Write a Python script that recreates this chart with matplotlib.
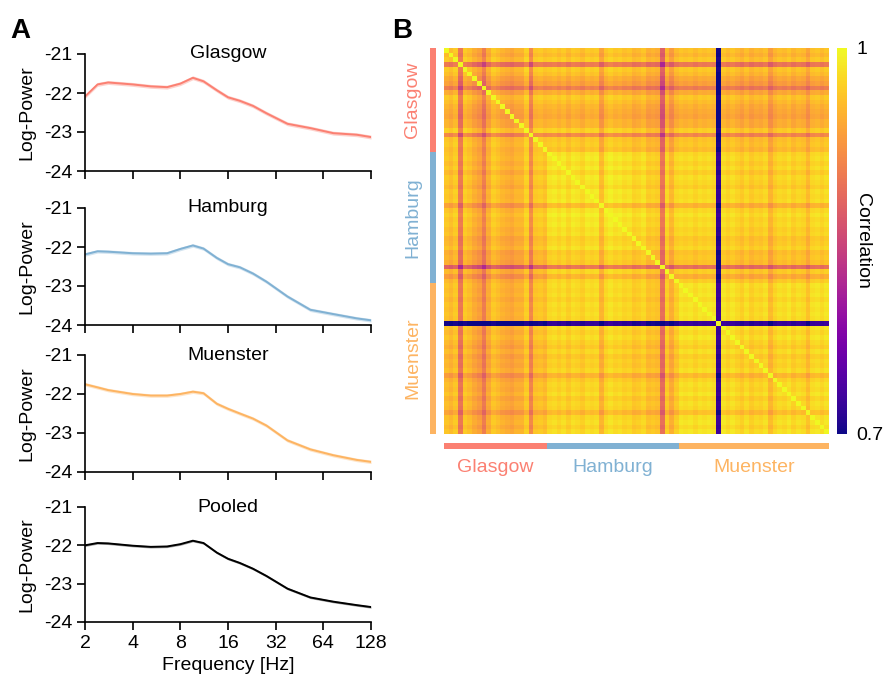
import numpy as np
import matplotlib
matplotlib.use("Agg")
import matplotlib.pyplot as plt
from matplotlib.ticker import FixedLocator, NullFormatter

plt.rcParams["font.family"] = ["Liberation Sans", "DejaVu Sans"]
plt.rcParams["font.size"] = 14
plt.rcParams["axes.unicode_minus"] = False

# ---- panel A: power spectra ----
freqs = [2, 2.4, 2.8, 4, 5.2, 6.6, 8, 9.6, 11.2, 13.6, 16, 19, 23, 28, 38, 53, 74, 104, 128]

glasgow = [-22.09, -21.78, -21.73, -21.78, -21.83, -21.85, -21.76, -21.61, -21.70, -21.93,
           -22.11, -22.20, -22.33, -22.52, -22.79, -22.90, -23.03, -23.07, -23.13]
hamburg = [-22.19, -22.11, -22.12, -22.16, -22.17, -22.16, -22.05, -21.96, -22.04, -22.28,
           -22.44, -22.52, -22.68, -22.89, -23.27, -23.61, -23.72, -23.83, -23.88]
muenster = [-21.75, -21.83, -21.90, -22.00, -22.04, -22.04, -22.00, -21.94, -21.98, -22.25,
            -22.38, -22.50, -22.63, -22.81, -23.19, -23.42, -23.57, -23.69, -23.74]
pooled = [-22.00, -21.94, -21.95, -22.01, -22.04, -22.03, -21.97, -21.88, -21.94, -22.19,
          -22.35, -22.46, -22.61, -22.80, -23.13, -23.36, -23.47, -23.56, -23.61]

site_names = ["Glasgow", "Hamburg", "Muenster"]
site_colors = ["#FB8072", "#80B1D3", "#FDB462"]
sem_width = [0.05, 0.045, 0.045, 0.03]

freq_ticks = [2, 4, 8, 16, 32, 64, 128]

# ---- panel B: subject x subject correlation ----
site_sizes = [22, 28, 32]
subject_dev = [
    # Glasgow
    0.012, 0.02, 0.008, 0.075, 0.008, 0.016, 0.03, 0.04, 0.07, 0.03, 0.008,
    0.016, 0.025, 0.03, 0.035, 0.025, 0.025, 0.004, 0.06, 0.012, 0.008, 0.016,
    # Hamburg
    0.008, 0.004, 0.012, 0.004, 0.016, 0.004, 0.008, 0.016, 0.004, 0.008, 0.004, 0.035, 0.008, 0.0,
    0.008, 0.004, 0.012, 0.008, 0.02, 0.016, 0.008, 0.025, 0.02, 0.025, 0.095, 0.016, 0.04, 0.016,
    # Muenster
    0.004, 0.008, 0.004, 0.012, 0.004, 0.008, 0.004, 0.008, 0.265, 0.004, 0.012, 0.004, 0.012, 0.02, 0.008, 0.02,
    0.012, 0.016, 0.008, 0.035, 0.016, 0.008, 0.012, 0.004, 0.016, 0.008, 0.012, 0.03, 0.008, 0.004, 0.012, 0.004,
]
site_offset = [[0.012, 0.016, 0.02],
               [0.016, 0.0, 0.008],
               [0.02, 0.008, 0.003]]

W, H = 885, 684


def box(x0, y0, x1, y1):
    # pixel box (top-left origin) -> figure fraction rect
    return [x0 / W, 1 - y1 / H, (x1 - x0) / W, (y1 - y0) / H]


fig = plt.figure(figsize=(W / 100, H / 100), dpi=100)

panels = [(glasgow, site_colors[0], "Glasgow", 54, 171),
          (hamburg, site_colors[1], "Hamburg", 208, 325),
          (muenster, site_colors[2], "Muenster", 355, 472),
          (pooled, "black", "Pooled", 507, 622)]

for i, (vals, col, name, top, bot) in enumerate(panels):
    ax = fig.add_axes(box(85, top, 371, bot))
    v = np.array(vals)
    ax.fill_between(freqs, v - sem_width[i], v + sem_width[i], color=col, alpha=0.35, lw=0)
    ax.plot(freqs, v, color=col, lw=1.4)
    ax.set_xscale("log", base=2)
    ax.set_xlim(2, 128)
    ax.set_ylim(-24, -21)
    ax.set_yticks([-24, -23, -22, -21])
    ax.set_yticklabels(["-24", "-23", "-22", "-21"])
    ax.xaxis.set_major_locator(FixedLocator(freq_ticks))
    ax.xaxis.set_minor_locator(FixedLocator([]))
    if i == 3:
        ax.set_xticklabels([str(f) for f in freq_ticks])
        ax.set_xlabel("Frequency [Hz]", labelpad=4)
    else:
        ax.xaxis.set_major_formatter(NullFormatter())
    ax.set_ylabel("Log-Power", labelpad=6)
    ax.text(0.5, 1.0, name, transform=ax.transAxes, ha="center", va="center")
    for s in ["top", "right"]:
        ax.spines[s].set_visible(False)
    for s in ["left", "bottom"]:
        ax.spines[s].set_linewidth(1.2)
    ax.tick_params(direction="out", length=6, width=1.2, pad=3)

fig.text(10 / W, 1 - 31 / H, "A", fontsize=20, fontweight="bold", va="center")
fig.text(392 / W, 1 - 31 / H, "B", fontsize=20, fontweight="bold", va="center")

# correlation matrix
dev = np.array(subject_dev)
n = len(dev)
assert n == sum(site_sizes)
site_idx = np.repeat(np.arange(3), site_sizes)
corr = 1 - dev[:, None] - dev[None, :] - np.array(site_offset)[site_idx[:, None], site_idx[None, :]]
np.fill_diagonal(corr, 1.0)

hx = fig.add_axes(box(444, 48, 829, 434))
im = hx.imshow(corr, cmap="plasma", vmin=0.7, vmax=1, aspect="auto", interpolation="nearest")
hx.set_xticks([])
hx.set_yticks([])
for s in hx.spines.values():
    s.set_visible(False)

cax = fig.add_axes(box(837, 48, 847, 434))
cb = fig.colorbar(im, cax=cax, ticks=[0.7, 1])
cb.ax.set_yticklabels(["0.7", "1"])
cb.ax.tick_params(length=0, pad=7)
cb.outline.set_visible(False)
cb.ax.text(1.7, 0.5, "Correlation", transform=cb.ax.transAxes, rotation=-90,
           ha="left", va="center")

# site bars
edges = np.concatenate([[0], np.cumsum(site_sizes)])
lx = fig.add_axes(box(430, 48, 436, 434))
bx = fig.add_axes(box(444, 443, 829, 449))
for k in range(3):
    lx.axhspan(edges[k], edges[k + 1], color=site_colors[k], lw=0)
    bx.axvspan(edges[k], edges[k + 1], color=site_colors[k], lw=0)
    mid = (edges[k] + edges[k + 1]) / 2
    lx.text(-1.5, mid, site_names[k], transform=lx.get_yaxis_transform(), rotation=90,
            ha="right", va="center", color=site_colors[k])
    bx.text(mid, -1.6, site_names[k], transform=bx.get_xaxis_transform(),
            ha="center", va="top", color=site_colors[k])
lx.set_ylim(n, 0)
bx.set_xlim(0, n)
for a in (lx, bx):
    a.axis("off")

fig.savefig("out.png", dpi=100)
